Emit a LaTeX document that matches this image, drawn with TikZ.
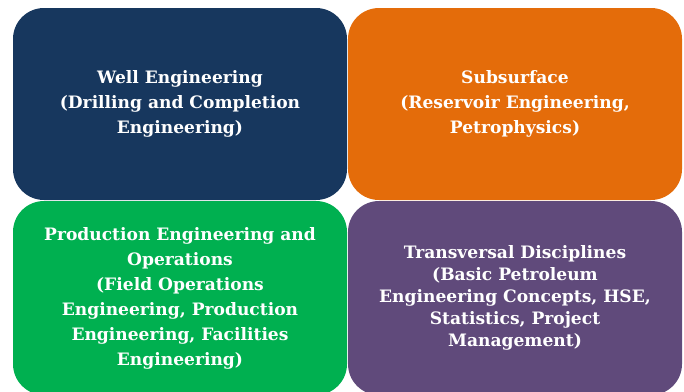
\documentclass[tikz,border=0pt]{standalone}
\usepackage{fontspec}
\setmainfont{DejaVu Serif}
\definecolor{wellblue}{HTML}{17375E}
\definecolor{subsorange}{HTML}{E46C0A}
\definecolor{prodgreen}{HTML}{00B050}
\definecolor{transpurple}{HTML}{604A7B}
\tikzset{
  quad/.style={rounded corners=31pt, draw=none, text=white, align=center,
    minimum width=334pt, minimum height=192pt, inner sep=0pt,
    font=\bfseries\fontsize{17.1}{25}\selectfont},
}
\begin{document}
\begin{tikzpicture}[x=1pt,y=-1pt]
  \useasboundingbox (0,0) rectangle (684,391);
  \fill[white] (0,0) rectangle (684,391);
  \clip (0,0) rectangle (684,391);
  \node[quad, fill=wellblue] (well) at (180,104)
    {Well Engineering\\(Drilling and Completion\\Engineering)};
  \node[quad, fill=subsorange] (subs) at (515,104)
    {Subsurface\\(Reservoir Engineering,\\Petrophysics)};
  \node[quad, fill=prodgreen, minimum height=194pt] (prod) at (180,298)
    {Production Engineering and\\Operations\\(Field Operations\\Engineering, Production\\Engineering, Facilities\\Engineering)};
  \node[quad, fill=transpurple, minimum height=194pt,
    font=\bfseries\fontsize{17.1}{22}\selectfont] (trans) at (515,298)
    {Transversal Disciplines\\(Basic Petroleum\\Engineering Concepts, HSE,\\Statistics, Project\\Management)};
\end{tikzpicture}
\end{document}
